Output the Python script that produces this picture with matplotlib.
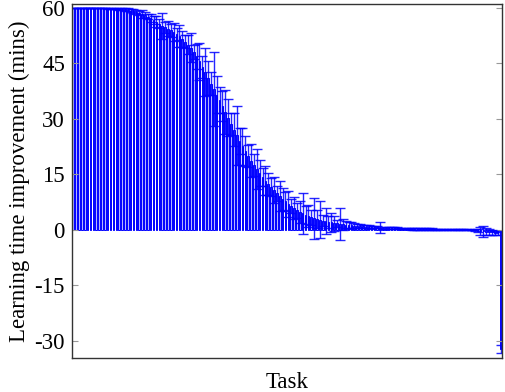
import numpy as np
import matplotlib.pyplot as plt

plt.rcParams['font.family'] = ['Liberation Serif', 'DejaVu Serif']

# learning time improvement per task (mins), sorted descending
improvement = [
    59.9, 59.9, 59.9, 59.9, 59.9, 59.9, 59.9, 59.9, 59.9, 59.9,
    59.9, 59.9, 59.8, 59.8, 59.8, 59.7, 59.7, 59.6, 59.5, 59.4,
    59.2, 59.0, 58.8, 58.6, 58.3, 58.0, 57.6, 57.2, 56.7, 56.2,
    55.6, 55.1, 54.7, 54.3, 53.9, 53.4, 52.9, 52.3, 51.5, 50.8,
    50.0, 49.2, 48.0, 46.8, 45.5, 44.0, 42.5, 41.0, 39.5, 38.0,
    36.5, 35.0, 33.5, 31.8, 30.2, 28.6, 27.0, 25.5, 24.0, 22.6,
    21.2, 19.9, 18.7, 17.5, 16.4, 15.3, 14.3, 13.3, 12.4, 11.5,
    10.7, 9.9, 9.1, 8.4, 7.7, 7.0, 6.4, 5.8, 5.3, 4.8,
    4.4, 4.0, 3.7, 3.4, 3.1, 2.9, 2.7, 2.5, 2.3, 2.1,
    2.0, 1.8, 1.7, 1.6, 1.5, 1.4, 1.3, 1.2, 1.1, 1.0,
    0.95, 0.9, 0.85, 0.8, 0.75, 0.7, 0.65, 0.6, 0.55, 0.5,
    0.48, 0.45, 0.42, 0.4, 0.38, 0.35, 0.33, 0.3, 0.28, 0.26,
    0.24, 0.22, 0.2, 0.18, 0.16, 0.15, 0.14, 0.12, 0.1, 0.09,
    0.08, 0.06, 0.05, 0.04, 0.03, 0.02, 0.01, 0.0, -0.02, -0.05,
    -0.1, -0.2, -0.3, -0.4, -0.5, -0.6, -0.7, -0.8, -1.0, -32.2,
]

# error (std) per task
errors = [
    0.1, 0.1, 0.1, 0.1, 0.1, 0.1, 0.1, 0.1, 0.1, 0.1,
    0.1, 0.1, 0.2, 0.2, 0.2, 0.2, 0.3, 0.3, 0.3, 0.4,
    0.4, 0.5, 0.5, 0.6, 1.0, 0.8, 0.7, 1.2, 1.0, 1.5,
    1.2, 3.5, 1.5, 2.0, 1.8, 2.5, 1.6, 3.0, 2.2, 1.8,
    2.5, 4.0, 2.0, 3.5, 5.0, 3.0, 6.5, 4.5, 3.0, 10.0,
    5.0, 3.5, 4.0, 6.0, 5.0, 3.0, 4.5, 8.0, 3.5, 5.0,
    4.0, 3.0, 4.5, 3.0, 5.5, 3.5, 2.5, 4.0, 3.0, 2.5,
    3.5, 2.0, 4.0, 3.0, 2.5, 3.5, 1.8, 3.0, 2.0, 3.0,
    5.5, 2.5, 3.0, 2.0, 5.5, 2.5, 5.0, 1.5, 3.5, 1.5,
    2.5, 2.0, 1.0, 4.3, 1.5, 1.0, 0.8, 1.0, 0.6, 0.5,
    0.6, 0.4, 0.5, 0.6, 0.4, 0.3, 0.3, 1.5, 0.3, 0.2,
    0.2, 0.2, 0.2, 0.3, 0.2, 0.2, 0.2, 0.2, 0.3, 0.2,
    0.2, 0.3, 0.2, 0.2, 0.2, 0.2, 0.1, 0.1, 0.1, 0.1,
    0.1, 0.1, 0.1, 0.1, 0.1, 0.1, 0.1, 0.1, 0.1, 0.1,
    0.3, 0.5, 1.0, 1.5, 1.0, 0.8, 0.6, 0.5, 0.4, 1.0,
]

yticks = [-30, -15, 0, 15, 30, 45, 60]

x = np.arange(len(improvement))

fig = plt.figure(figsize=(5.06, 3.92), dpi=100)
ax = fig.add_axes([0.142, 0.087, 0.850, 0.903])

# bars w/ light fill + blue outline, symmetric error bars
ax.bar(x, improvement, width=0.55, color='#b3b3ff', edgecolor='blue', linewidth=0.7,
       yerr=errors, error_kw=dict(ecolor='blue', elinewidth=1.0, capsize=3.5, capthick=1.0, alpha=0.85))

ax.set_xlim(-0.5, len(improvement) - 0.5)
ax.set_ylim(-34.6, 61)
ax.set_yticks(yticks)
ax.set_yticklabels([str(t) for t in yticks])
ax.set_xticks([])
ax.tick_params(axis='y', direction='in', length=4, color='#999999', right=True, labelsize=16.5, pad=5)

for s in ax.spines.values():
    s.set_color('#333333')
    s.set_linewidth(1.0)

ax.set_ylabel('Learning time improvement (mins)', fontsize=16.5, labelpad=3)
ax.set_xlabel('Task', fontsize=16.5, labelpad=10)

plt.savefig('out.png', dpi=100)
